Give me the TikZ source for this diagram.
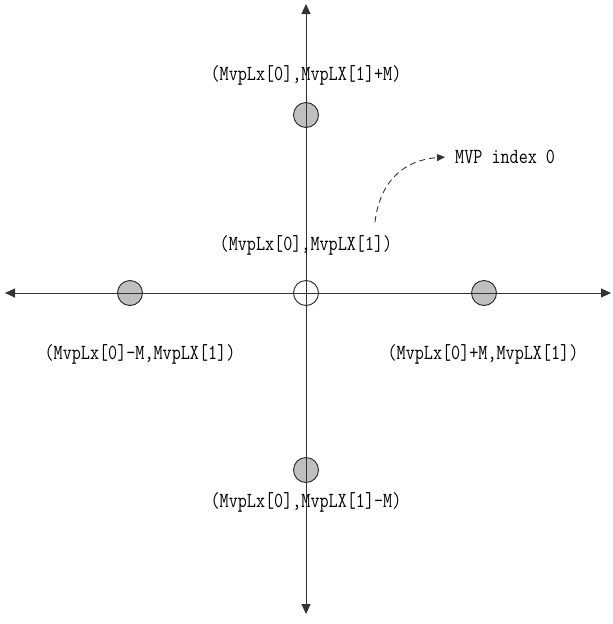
\documentclass[tikz,border=0pt]{standalone}
\usepackage{graphicx}
\usetikzlibrary{arrows.meta}
\newcommand{\lbltext}[1]{\scalebox{0.82}[1]{#1}}
\begin{document}
\begin{tikzpicture}[x=1pt,y=-1pt,
  axis/.style={line width=0.9pt,draw=black!80,-{Triangle[length=10pt,width=9pt]}},
  pt/.style={circle,draw=black!85,line width=0.9pt,minimum size=25pt,inner sep=0pt},
  full/.style={pt,fill=black!25},
  lbl/.style={font=\ttfamily\fontsize{21.5}{24}\selectfont,inner sep=0pt,text=black}]
\useasboundingbox (0,0) rectangle (613,624);
\coordinate (o) at (306,293);
\coordinate (top) at (306,4);
\coordinate (bot) at (306,614);
\coordinate (lft) at (5,293);
\coordinate (rgt) at (611,293);
\node[pt] (c0) at (306,293) {};
\node[full] (cu) at (306,115) {};
\node[full] (cl) at (130,293) {};
\node[full] (cr) at (484,293) {};
\node[full] (cd) at (306,470) {};
\draw[axis] (o) -- (top);
\draw[axis] (o) -- (bot);
\draw[axis] (o) -- (lft);
\draw[axis] (o) -- (rgt);
\node[lbl] (lu) at (306,75) {\lbltext{(MvpLx[0],MvpLX[1]+M)}};
\node[lbl] (l0) at (306,245) {\lbltext{(MvpLx[0],MvpLX[1])}};
\node[lbl] (ll) at (140,354) {\lbltext{(MvpLx[0]-M,MvpLX[1])}};
\node[lbl] (lr) at (483,354) {\lbltext{(MvpLx[0]+M,MvpLX[1])}};
\node[lbl] (ld) at (306,502) {\lbltext{(MvpLx[0],MvpLX[1]-M)}};
\node[lbl,anchor=west] (mvp) at (455,157) {\lbltext{MVP index 0}};
\coordinate (s) at (375,222);
\coordinate (e) at ([xshift=-10pt]mvp.west);
\draw[dash pattern=on 6pt off 4pt,line width=0.9pt,draw=black!80,-{Triangle[length=8pt,width=7pt]}] (s) .. controls (380,180) and (405,160) .. (e);
\end{tikzpicture}
\end{document}
